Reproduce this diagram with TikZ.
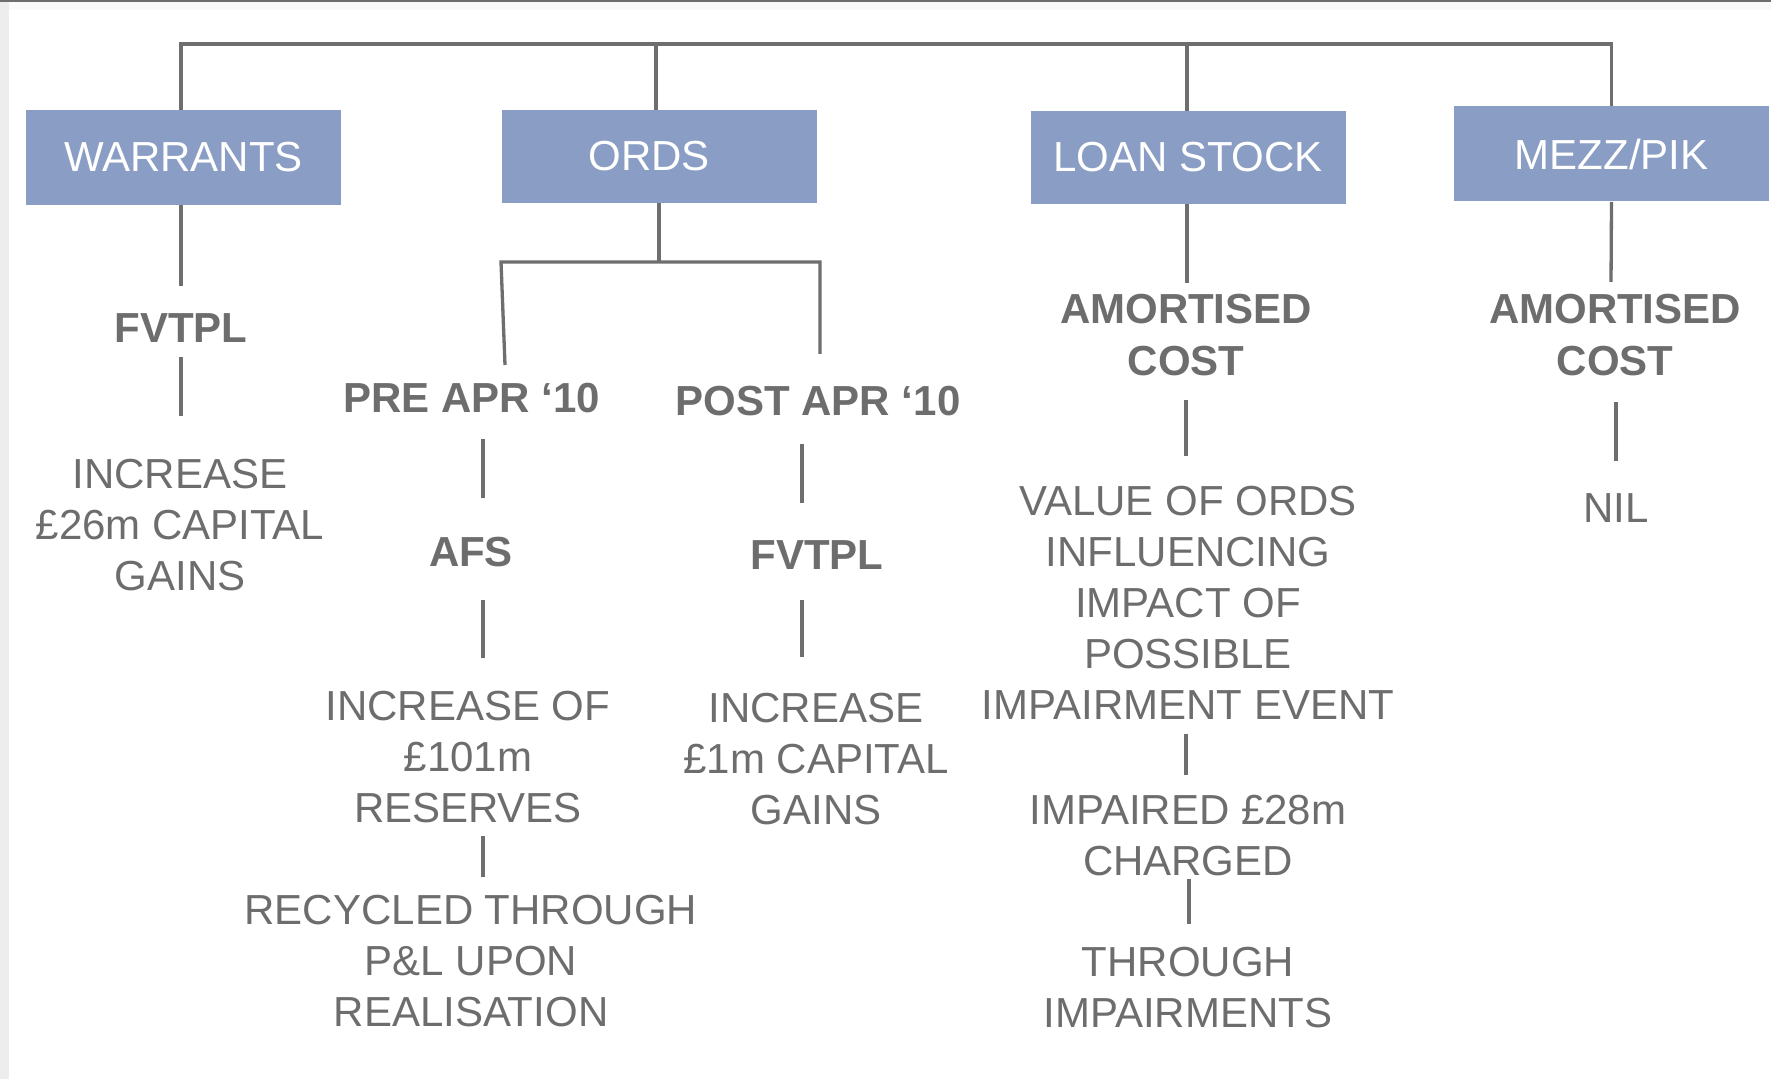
\documentclass[tikz,border=0pt]{standalone}
\usepackage{fontspec}
\setmainfont{Liberation Sans}
\definecolor{boxc}{HTML}{8A9DC4}
\definecolor{txtc}{HTML}{6D6D6D}
\definecolor{linec}{HTML}{6E6E6E}
\begin{document}
\begin{tikzpicture}[x=0.5pt,y=-0.5pt,
  box/.style={fill=boxc, draw=none, text=white, minimum width=157.5pt, minimum height=47.5pt, inner sep=0pt, font=\fontsize{21}{25.5}\selectfont},
  txt/.style={text=txtc, align=center, inner sep=0pt, anchor=north, font=\fontsize{21}{25.5}\selectfont},
  bld/.style={txt, font=\fontsize{21}{26}\selectfont\bfseries},
  ln/.style={draw=linec, line width=1.65pt}]
\useasboundingbox (0,0) rectangle (1771,1079);
\fill[white] (0,0) rectangle (1771,1079);
\fill[black!7] (0,0) rectangle (9,1079);
\fill[black!2] (9,2) rectangle (1771,10);
\draw[linec, line width=1pt] (0,1.5) -- (1771,1.5);

% boxes
\node[box] (wbox) at (183.5,157.5) {WARRANTS};
\node[box, minimum height=46.5pt] (obox) at (659,156.5) {ORDS\kern10pt};
\node[box, minimum height=46.5pt] (lbox) at (1188,157.5) {LOAN STOCK};
\node[box] (mbox) at (1611.5,154) {MEZZ/PIK};

% texts
\node[bld, anchor=center] (wf) at (181,328) {FVTPL};
\node[txt] (wt) at (180,459) {INCREASE\\£26m CAPITAL\\GAINS};
\node[bld, anchor=center] (pre) at (472,398) {PRE APR ‘10};
\node[bld, anchor=center] (post) at (818,401) {POST APR ‘10};
\node[bld, anchor=center] (afs) at (471,552) {AFS};
\node[bld, anchor=center] (pf) at (817,555) {FVTPL};
\node[txt] (ot) at (468,691) {INCREASE OF\\£101m\\RESERVES};
\node[txt] (rec) at (471,895) {RECYCLED THROUGH\\P\&L UPON\\REALISATION};
\node[txt] (pt) at (816,693) {INCREASE\\£1m CAPITAL\\GAINS};
\node[bld] (la) at (1186,294) {AMORTISED\\COST};
\node[txt] (lv) at (1188,486) {VALUE OF ORDS\\INFLUENCING\\IMPACT OF\\POSSIBLE\\IMPAIRMENT EVENT};
\node[txt] (li) at (1188,795) {IMPAIRED £28m\\CHARGED};
\node[txt] (lt) at (1188,947) {THROUGH\\IMPAIRMENTS};
\node[bld] (ma) at (1615,294) {AMORTISED\\COST};
\node[txt, anchor=center] (nil) at (1616,508) {NIL};

% coordinates for free ends
\coordinate (bus) at (0,44);
\coordinate (wt0) at (181,110); \coordinate (wb0) at (181,205);
\coordinate (ot0) at (656,110);
\coordinate (w1) at (181,286);
\coordinate (w2a) at (181,357); \coordinate (w2b) at (181,416);
\coordinate (ob1) at (501,262); \coordinate (ob2) at (820,262);
\coordinate (ob3) at (505,365); \coordinate (ob4) at (820,354);
\coordinate (pa1) at (483,439); \coordinate (pa2) at (483,498);
\coordinate (pb1) at (802,444); \coordinate (pb2) at (802,503);
\coordinate (pc1) at (483,600); \coordinate (pc2) at (483,658);
\coordinate (pd1) at (802,600); \coordinate (pd2) at (802,657);
\coordinate (pe1) at (483,836); \coordinate (pe2) at (483,877);
\coordinate (l1) at (1187,283);
\coordinate (l2a) at (1186,400); \coordinate (l2b) at (1186,456);
\coordinate (l3a) at (1186,734); \coordinate (l3b) at (1186,775);
\coordinate (l4a) at (1189,879); \coordinate (l4b) at (1189,924);
\coordinate (m1) at (1611,282);
\coordinate (m2a) at (1616,402); \coordinate (m2b) at (1616,461);

% bus
\draw[ln] (wt0) -- (wt0 |- bus) -- (mbox.north |- bus) -- (mbox.north);
\draw[ln] (ot0) -- (ot0 |- bus);
\draw[ln] (lbox.north -| l1) -- (l1 |- bus);

% warrants
\draw[ln] (wb0) -- (w1);
\draw[ln] (w2a) -- (w2b);
% ords
\draw[ln] (obox.south) -- (obox.south |- ob1);
\draw[ln] (ob3) -- (ob1) -- (ob2) -- (ob4);
\draw[ln] (pa1) -- (pa2);
\draw[ln] (pb1) -- (pb2);
\draw[ln] (pc1) -- (pc2);
\draw[ln] (pd1) -- (pd2);
\draw[ln] (pe1) -- (pe2);
% loan stock
\draw[ln] (lbox.south -| l1) -- (l1);
\draw[ln] (l2a) -- (l2b);
\draw[ln] (l3a) -- (l3b);
\draw[ln] (l4a) -- (l4b);
% mezz
\draw[ln] (mbox.south) -- (m1);
\draw[ln] (m2a) -- (m2b);
\end{tikzpicture}
\end{document}
